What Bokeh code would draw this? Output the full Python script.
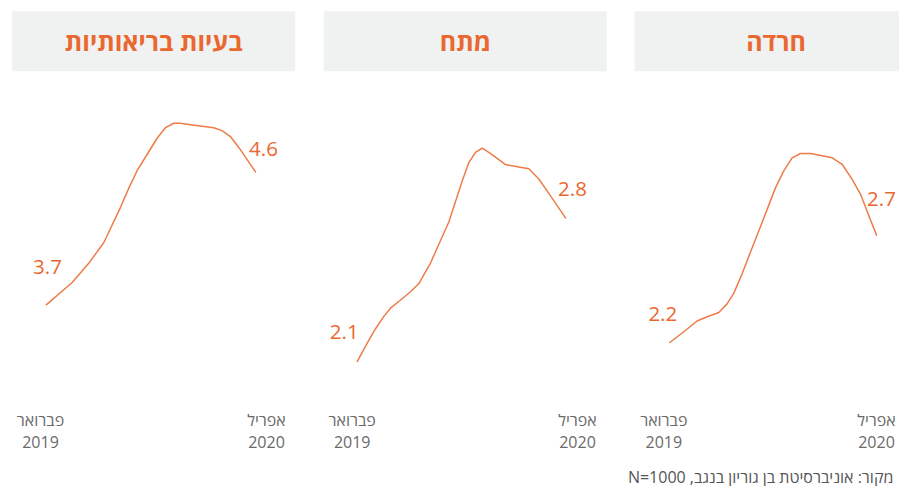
from bokeh.plotting import figure
from bokeh.models import Range1d
from bokeh.embed import file_html
from bokeh.resources import INLINE
from bokeh.core.properties import value

# ---------------- data ----------------
titles = ["בעיות בריאותיות", "מתח", "חרדה"]
start_month, start_year = "פברואר", "2019"
end_month, end_year = "אפריל", "2020"
source_note = "מקור:  אוניברסיטת בן גוריון בנגב, N=1000"

# position along the period (0 = Feb 2019, 1 = Apr 2020) and value
health_t = [0, 0.123, 0.202, 0.274, 0.354, 0.394, 0.434, 0.482, 0.530, 0.569,
            0.609, 0.641, 0.689, 0.745, 0.800, 0.840, 0.880, 0.928, 1.0]
health_v = [3.70, 3.85, 3.98, 4.12, 4.36, 4.49, 4.61, 4.72, 4.83, 4.90,
            4.93, 4.93, 4.92, 4.91, 4.90, 4.88, 4.84, 4.75, 4.60]

stress_t = [0, 0.048, 0.088, 0.128, 0.160, 0.208, 0.256, 0.296, 0.352, 0.400,
            0.440, 0.472, 0.504, 0.536, 0.568, 0.600, 0.632, 0.672, 0.712, 0.768,
            0.824, 0.872, 0.920, 1.0]
stress_v = [2.10, 2.19, 2.26, 2.32, 2.36, 2.40, 2.44, 2.48, 2.58, 2.69,
            2.78, 2.88, 2.98, 3.07, 3.12, 3.14, 3.12, 3.09, 3.06, 3.05,
            3.04, 2.99, 2.92, 2.80]

anxiety_t = [0, 0.068, 0.132, 0.181, 0.237, 0.277, 0.310, 0.350, 0.390, 0.431,
             0.471, 0.511, 0.552, 0.592, 0.632, 0.681, 0.737, 0.786, 0.834, 0.882,
             0.923, 0.963, 1.0]
anxiety_v = [2.20, 2.25, 2.30, 2.32, 2.34, 2.38, 2.43, 2.52, 2.62, 2.72,
             2.82, 2.92, 3.00, 3.06, 3.08, 3.08, 3.07, 3.06, 3.03, 2.96,
             2.89, 2.79, 2.70]

series_t = [health_t, stress_t, anxiety_t]
series_v = [health_v, stress_v, anxiety_v]

# ---------------- layout / style ----------------
W, H = 899, 486
FONT = "Open Sans"
ORANGE_LINE = "#EE7C48"
ORANGE_TEXT = "#E9682F"
GRAY = "#6A6A6A"

box_left = [11.7, 323.3, 634.0]
box_w = 283
box_top, box_bottom = 10.7, 70.7
line_x0 = [46.0, 356.7, 669.3]
line_x1 = [255.0, 565.0, 876.0]
band_top, band_bottom = 80.0, 400.0
vranges = [(3.05, 5.22), (1.91, 3.47), (1.93, 3.42)]
start_off = [(1, -38), (-13, -30), (-7, -29)]
end_off = [(8, -23), (7, -29), (5, -36)]
left_lab_dx = [-6, -5, -6]
right_lab_dx = [11, 12, 0]


def rtl(s):
    # lay the line out right-to-left, as on the original page
    return "\u2067" + s + "\u2069"


p = figure(width=W, height=H,
           x_range=Range1d(0, W), y_range=Range1d(H, 0),
           x_axis_location=None, y_axis_location=None,
           output_backend="svg", toolbar_location=None,
           min_border=0, min_border_left=0, min_border_right=0,
           min_border_top=0, min_border_bottom=0)
p.grid.visible = False
p.outline_line_color = None
p.background_fill_color = "white"
p.border_fill_color = "white"

for i in range(3):
    # header
    p.quad(left=[box_left[i]], right=[box_left[i] + box_w],
           top=[box_top], bottom=[box_bottom],
           fill_color="#F0F1F1", line_color=None)
    p.text(x=[box_left[i] + box_w / 2], y=[(box_top + box_bottom) / 2],
           text=[titles[i]], text_font=value(FONT),
           text_font_style="bold", text_font_size="25px",
           text_color=ORANGE_TEXT, text_align="center", text_baseline="middle")

    # per-panel scales
    ppx = line_x1[i] - line_x0[i]
    tname, vname = f"t{i}", f"v{i}"
    p.extra_x_ranges[tname] = Range1d(-line_x0[i] / ppx, (W - line_x0[i]) / ppx)
    lo, hi = vranges[i]
    ppu = (band_bottom - band_top) / (hi - lo)
    p.extra_y_ranges[vname] = Range1d(lo - (H - band_bottom) / ppu,
                                      hi + band_top / ppu)

    t, v = series_t[i], series_v[i]
    p.line(t, v, x_range_name=tname, y_range_name=vname,
           line_color=ORANGE_LINE, line_width=1.5,
           line_join="round", line_cap="round")

    p.text(x=[t[0]], y=[v[0]], text=[f"{v[0]:.1f}"],
           x_offset=start_off[i][0], y_offset=start_off[i][1],
           x_range_name=tname, y_range_name=vname,
           text_font=value(FONT), text_font_size="20.5px", text_color=ORANGE_TEXT,
           text_align="center", text_baseline="middle")
    p.text(x=[t[-1]], y=[v[-1]], text=[f"{v[-1]:.1f}"],
           x_offset=end_off[i][0], y_offset=end_off[i][1],
           x_range_name=tname, y_range_name=vname,
           text_font=value(FONT), text_font_size="20.5px", text_color=ORANGE_TEXT,
           text_align="center", text_baseline="middle")

    # period labels
    for tx, lab, dx in ((0, (start_month, start_year), left_lab_dx[i]),
                        (1, (end_month, end_year), right_lab_dx[i])):
        p.text(x=[tx, tx], y=[419, 441], text=list(lab), x_offset=dx,
               x_range_name=tname,
               text_font=value(FONT), text_font_size="16px", text_color=GRAY,
               text_align="center", text_baseline="middle")

p.text(x=[897], y=[476], text=[rtl(source_note)],
       text_font=value(FONT), text_font_size="16px", text_color="#555555",
       text_align="right", text_baseline="middle")

open("out.html", "w").write(file_html(p, INLINE))
